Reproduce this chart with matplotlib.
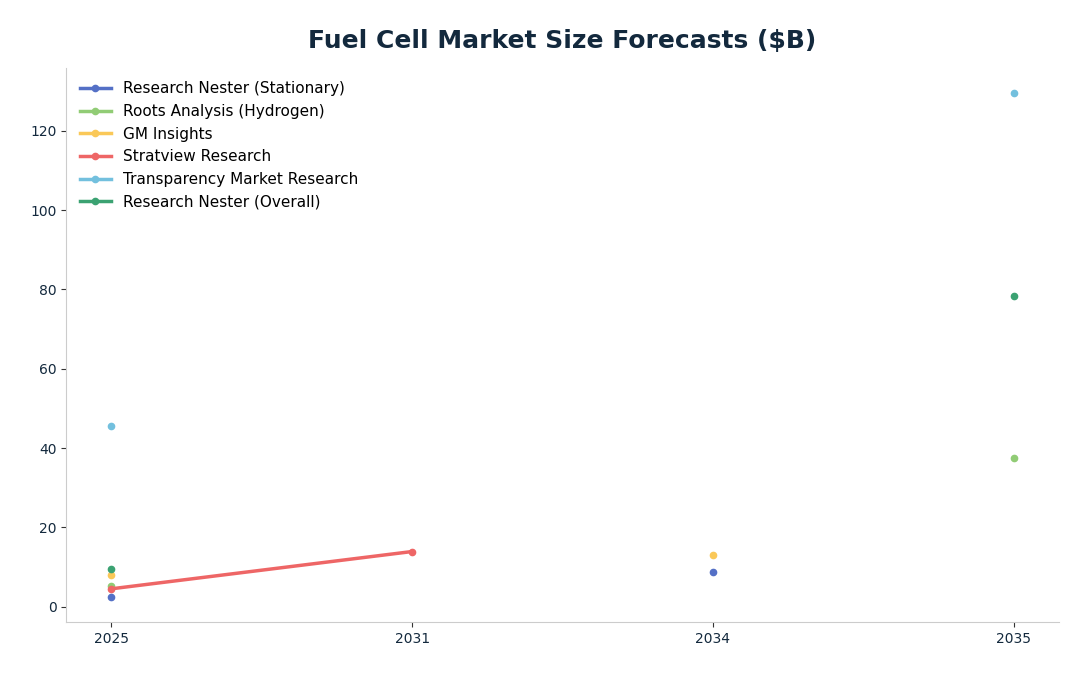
import numpy as np
import matplotlib.pyplot as plt

# forecast years (categorical axis)
years = ['2025', '2031', '2034', '2035']

nan = np.nan
rn_stationary = [2.5, nan, 8.8, nan]
roots_hydrogen = [5.3, nan, nan, 37.6]
gm_insights = [8.0, nan, 13.1, nan]
stratview = [4.5, 13.9, nan, nan]
transparency = [45.6, nan, nan, 129.6]
rn_overall = [9.6, nan, nan, 78.4]

series = [
    ('Research Nester (Stationary)', rn_stationary, '#5470c6'),
    ('Roots Analysis (Hydrogen)', roots_hydrogen, '#91cc75'),
    ('GM Insights', gm_insights, '#fac858'),
    ('Stratview Research', stratview, '#ee6666'),
    ('Transparency Market Research', transparency, '#73c0de'),
    ('Research Nester (Overall)', rn_overall, '#3ba272'),
]

fig, ax = plt.subplots(figsize=(10.88, 6.76), dpi=100)
fig.subplots_adjust(left=0.061, right=0.973, bottom=0.08, top=0.9)

x = np.arange(len(years))
for name, vals, col in series:
    ax.plot(x, vals, color=col, lw=2.5, marker='o', ms=4.5, label=name)

ax.set_xticks(x)
ax.set_xticklabels(years)
ax.set_title('Fuel Cell Market Size Forecasts ($B)', fontsize=18, fontweight='bold',
             color='#13293d', pad=14)

for s in ['top', 'right']:
    ax.spines[s].set_visible(False)
for s in ['left', 'bottom']:
    ax.spines[s].set_color('#cccccc')
ax.tick_params(colors='#333333', labelcolor='#13293d', labelsize=10)

ax.legend(loc='upper left', frameon=False, fontsize=11)

plt.savefig('out.png')
